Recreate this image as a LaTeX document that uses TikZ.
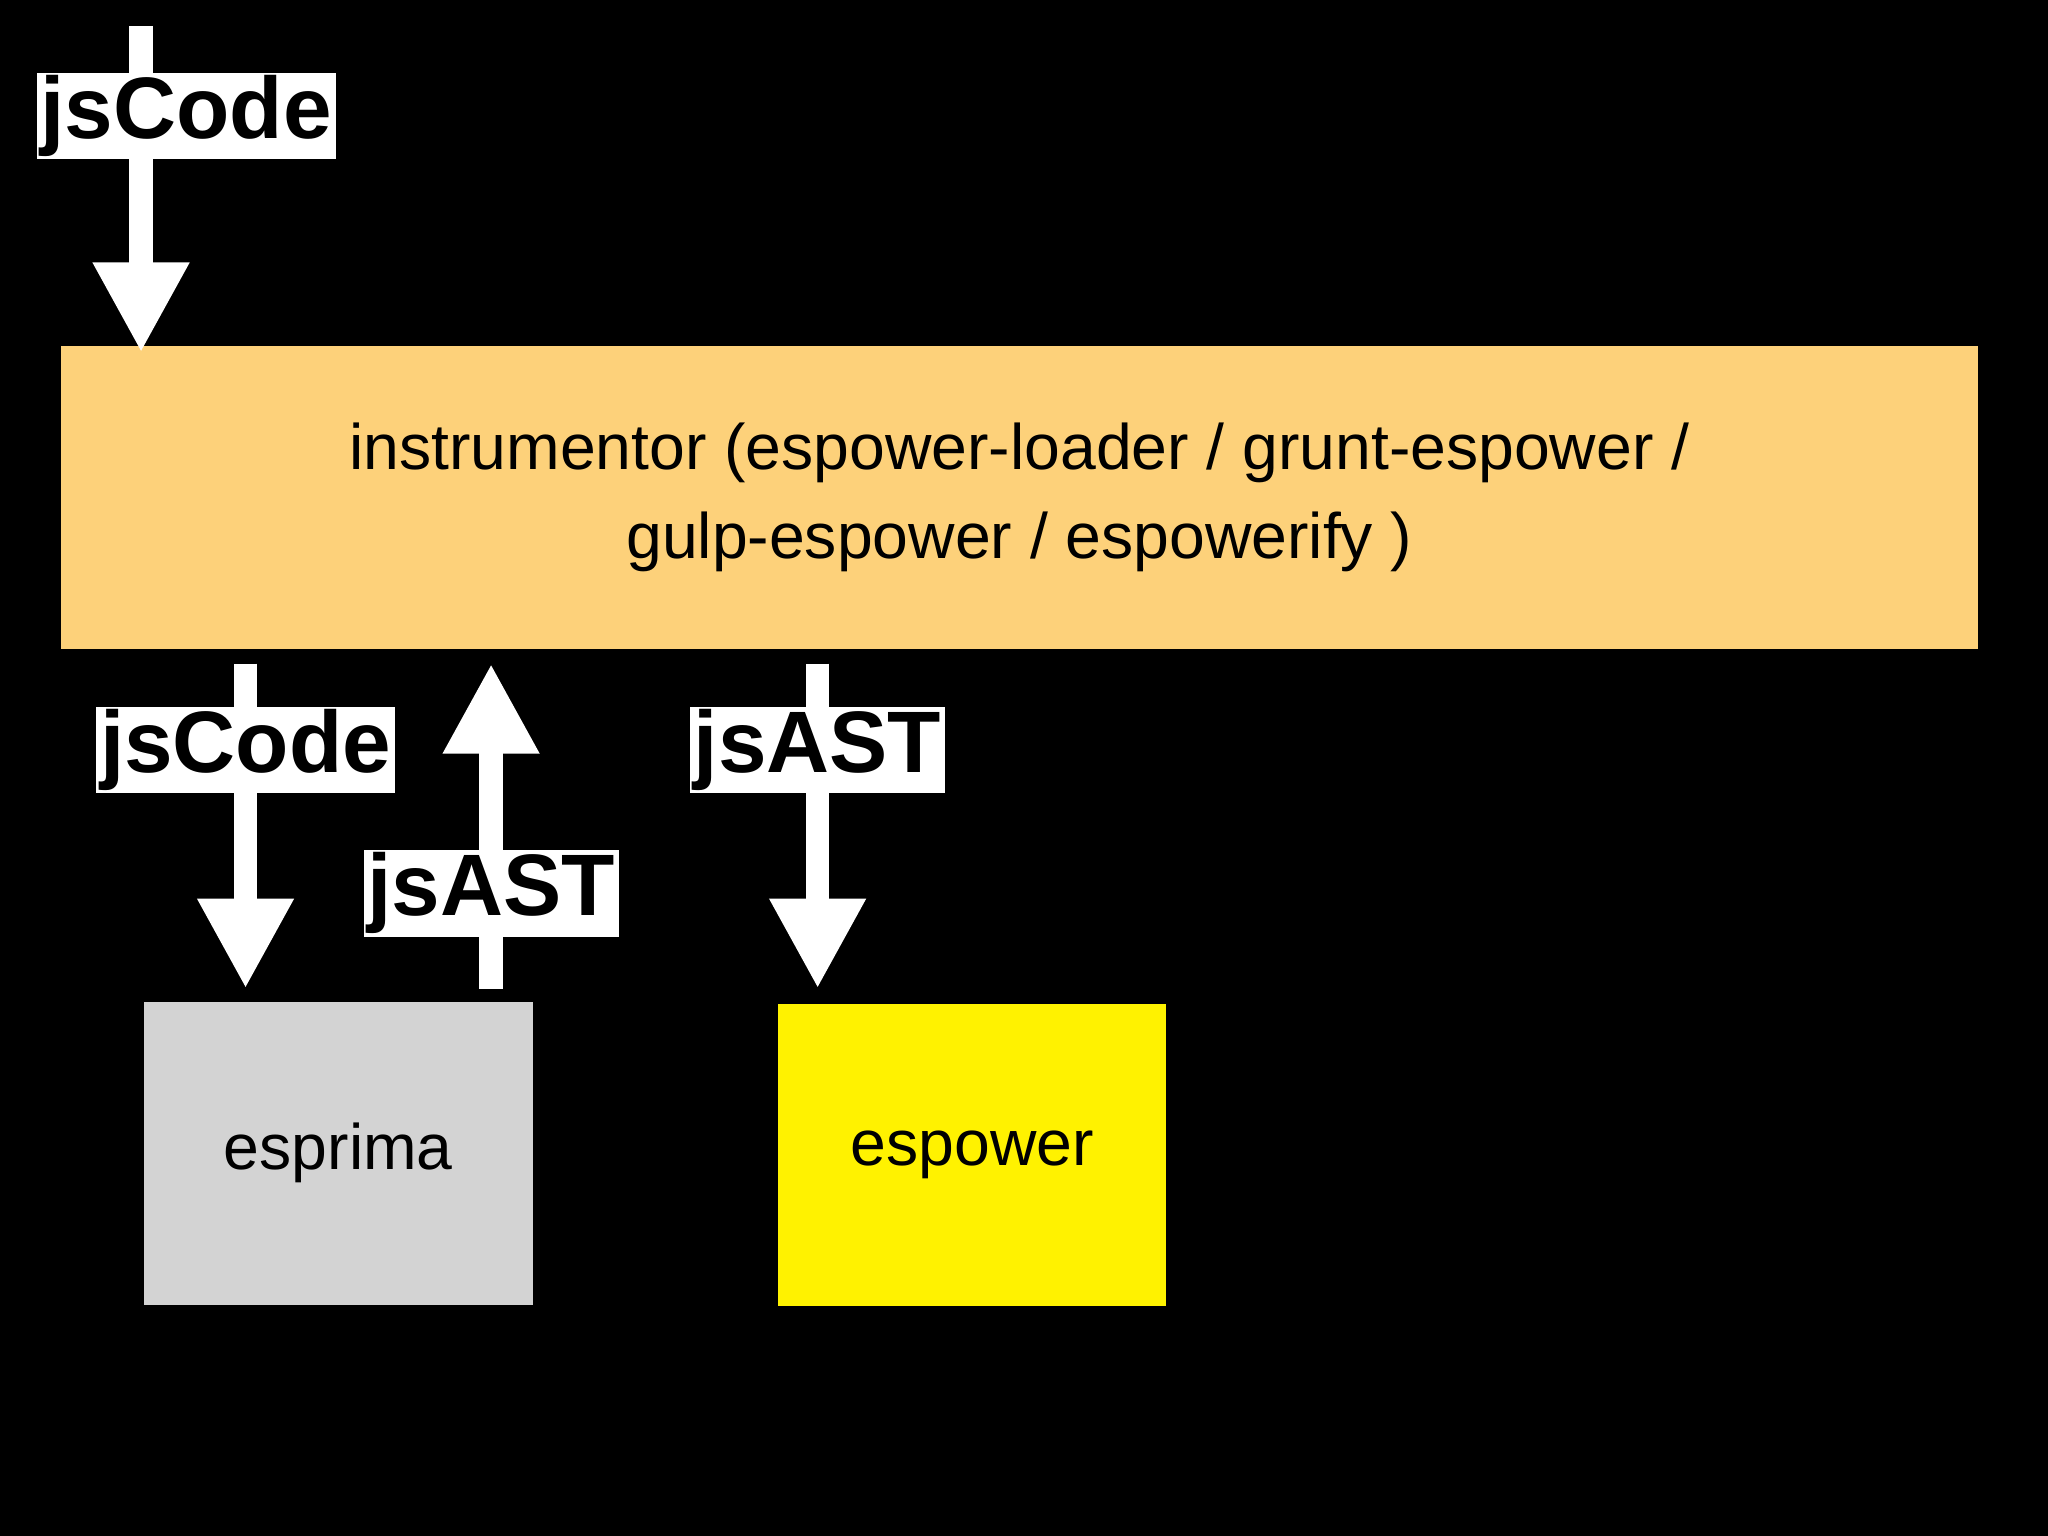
\documentclass[tikz,border=0pt]{standalone}
\usepackage{fontspec}
\setmainfont{Liberation Sans}
\usetikzlibrary{arrows.meta}
\begin{document}
\begin{tikzpicture}[x=0.01cm,y=-0.01cm,
  arr/.style={draw=white,line width=0.18cm,-{Triangle[width=0.69cm,length=0.69cm]}},
  lbl/.style={fill=white,text=black,font=\fontsize{19}{20}\selectfont\bfseries,inner xsep=0.03cm,inner ysep=0cm,minimum height=0.66cm},
  box/.style={draw=none,inner sep=0,font=\fontsize{14}{19.3}\selectfont,align=center,text=black}]
\fill[black] (0,0) rectangle (1568,1176);
\node[box,fill={rgb,255:red,253;green,209;blue,122},minimum width=14.67cm,minimum height=2.32cm] (inst) at (780.5,381) {instrumentor (espower-loader / grunt-espower /\\gulp-espower / espowerify )};
\node[box,fill={rgb,255:red,211;green,211;blue,211},minimum width=2.98cm,minimum height=2.32cm] (esprima) at (259,883) {esprima};
\node[box,fill=yellow,minimum width=2.97cm,minimum height=2.31cm] (espower) at (744.5,884.5) {espower};
\coordinate (s1) at (108,20);
\coordinate (e1) at (108,270);
\coordinate (s2) at (188,508);
\coordinate (e2) at (188,757);
\coordinate (s3) at (376,757);
\coordinate (e3) at (376,508);
\coordinate (s4) at (626,508);
\coordinate (e4) at (626,757);
\draw[arr] (s1) -- (e1);
\draw[arr] (s2) -- (e2);
\draw[arr] (s3) -- (e3);
\draw[arr] (s4) -- (e4);
\node[lbl] (l1) at (142.5,89) {jsCode};
\node[lbl] (l2) at (188,574) {jsCode};
\node[lbl] (l3) at (376,684) {jsAST};
\node[lbl] (l4) at (626,574) {jsAST};
\end{tikzpicture}
\end{document}
